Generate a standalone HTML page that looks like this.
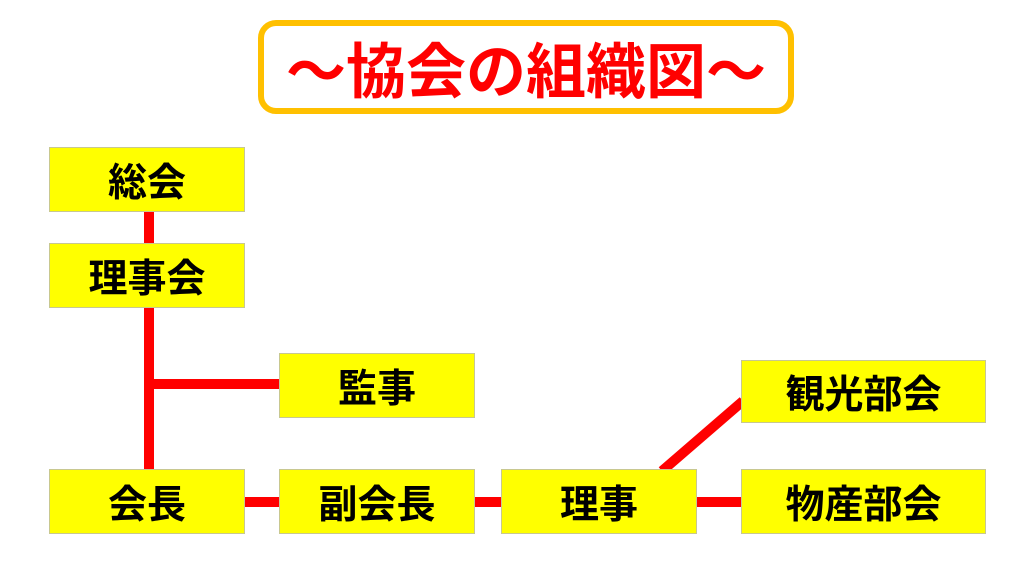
<!DOCTYPE html>
<html><head><meta charset="utf-8"><style>
body{margin:0;width:1024px;height:576px;background:#fff;position:relative;overflow:hidden;font-family:"Liberation Sans","Noto Sans CJK JP",sans-serif;}
.b{position:absolute;background:#ffff00;border:1px solid #c8c890;box-sizing:border-box;display:flex;align-items:center;justify-content:center;font-weight:bold;font-size:39px;color:#000;}
.l{position:absolute;background:#ff0000;}
.t{position:absolute;left:258px;top:20px;width:536px;height:94px;border:6px solid #ffc000;border-radius:18px;box-sizing:border-box;display:flex;align-items:center;justify-content:center;color:#ff0000;font-weight:bold;font-size:60px;}
</style></head><body>
<div class="t">～協会の組織図～</div>
<div class="l" style="left:144px;top:210px;width:10px;height:262px"></div>
<div class="l" style="left:149px;top:379px;width:132px;height:10px"></div>
<div class="l" style="left:243px;top:497px;width:500px;height:10px"></div>
<svg style="position:absolute;left:0;top:0" width="1024" height="576"><line x1="662" y1="471" x2="743" y2="401" stroke="#ff0000" stroke-width="10"/></svg>
<div class="b" style="left:49px;top:147px;width:196px;height:65px">総会</div>
<div class="b" style="left:49px;top:243px;width:196px;height:65px">理事会</div>
<div class="b" style="left:279px;top:353px;width:196px;height:65px">監事</div>
<div class="b" style="left:49px;top:469px;width:196px;height:65px">会長</div>
<div class="b" style="left:279px;top:469px;width:196px;height:65px">副会長</div>
<div class="b" style="left:501px;top:469px;width:196px;height:65px">理事</div>
<div class="b" style="left:741px;top:360px;width:245px;height:63px">観光部会</div>
<div class="b" style="left:741px;top:469px;width:245px;height:65px">物産部会</div>
</body></html>
